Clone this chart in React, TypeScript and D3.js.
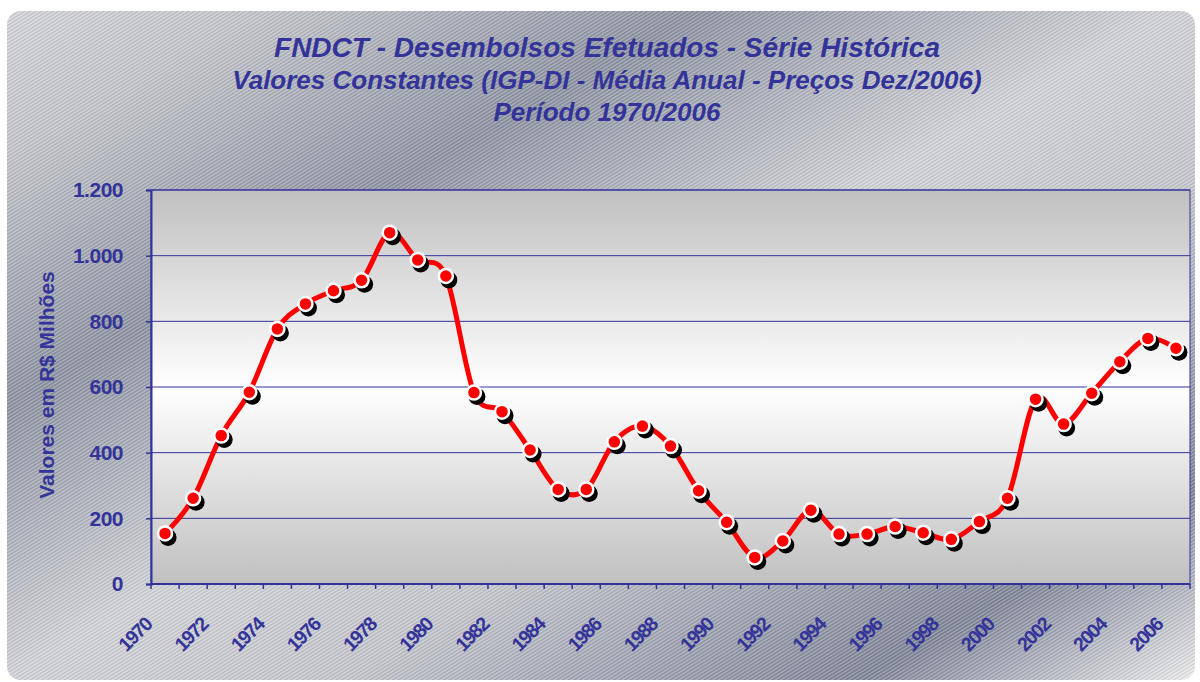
import React, { useRef, useEffect } from 'react';
import * as d3 from 'd3';

const years = d3.range(1970, 2007).map(String);
const values = [
  154, 261, 452, 584, 777, 853, 893, 925, 1070, 987,
  938, 583, 525, 408, 288, 288, 433, 481, 420, 284,
  188, 81, 131, 225, 152, 152, 175, 156, 136, 190,
  261, 563, 487, 581, 677, 748, 718,
];
const yTicks = [0, 200, 400, 600, 800, 1000, 1200];
const titleLines = [
  'FNDCT - Desembolsos Efetuados - Série Histórica',
  'Valores Constantes (IGP-DI - Média Anual - Preços Dez/2006)',
  'Período 1970/2006',
];
const yTitle = 'Valores em R$ Milhões';

const NAVY = '#333399';

export default function App() {
  const svgRef = useRef<SVGSVGElement | null>(null);

  useEffect(() => {
    if (!svgRef.current) return;
    const svg = d3.select(svgRef.current);
    svg.selectAll('*').remove();

    const width = 1200;
    const height = 682;
    const plot = { left: 151, top: 190, right: 1190, bottom: 584 };

    const defs = svg.append('defs');

    // metallic backdrop, bands running at ~30 degrees
    const bg = defs.append('linearGradient').attr('id', 'bgGrad')
      .attr('gradientUnits', 'userSpaceOnUse')
      .attr('x1', 0).attr('y1', 0).attr('x2', 587).attr('y2', 1027);
    [
      [0, '#d8d9dd'], [0.12, '#c4c6cc'], [0.3, '#8e94a4'], [0.5, '#d4d5da'],
      [0.64, '#c6c8cf'], [0.86, '#80869a'], [1, '#eeeeef'],
    ].forEach(([o, c]) => bg.append('stop').attr('offset', o as number).attr('stop-color', c as string));

    const hatch = defs.append('pattern').attr('id', 'hatch')
      .attr('patternUnits', 'userSpaceOnUse').attr('width', 3).attr('height', 3)
      .attr('patternTransform', 'rotate(-32)');
    hatch.append('line').attr('x1', 0).attr('y1', 0.5).attr('x2', 3).attr('y2', 0.5)
      .attr('stroke', '#ffffff').attr('stroke-width', 1).attr('opacity', 0.3);
    hatch.append('line').attr('x1', 0).attr('y1', 1.5).attr('x2', 3).attr('y2', 1.5)
      .attr('stroke', '#000000').attr('stroke-width', 1).attr('opacity', 0.12);

    const plotGrad = defs.append('linearGradient').attr('id', 'plotGrad')
      .attr('x1', 0).attr('y1', 0).attr('x2', 0).attr('y2', 1);
    [[0, '#c0c0c0'], [0.5, '#ffffff'], [1, '#c0c0c0']]
      .forEach(([o, c]) => plotGrad.append('stop').attr('offset', o as number).attr('stop-color', c as string));

    svg.append('rect').attr('width', width).attr('height', height).attr('fill', '#ffffff');
    svg.append('rect').attr('x', 7).attr('y', 11).attr('width', 1188).attr('height', 669)
      .attr('rx', 14).attr('fill', 'url(#bgGrad)');
    svg.append('rect').attr('x', 7).attr('y', 11).attr('width', 1188).attr('height', 669)
      .attr('rx', 14).attr('fill', 'url(#hatch)');

    // titles
    const fontFam = 'Liberation Sans, Arial, sans-serif';
    const titleSizes = [28, 26, 26];
    const titleYs = [57, 89, 121];
    titleLines.forEach((t, i) => {
      svg.append('text').attr('x', 607).attr('y', titleYs[i])
        .attr('text-anchor', 'middle').attr('font-family', fontFam)
        .attr('font-size', titleSizes[i]).attr('font-weight', 'bold').attr('font-style', 'italic')
        .attr('fill', NAVY).text(t);
    });

    const x = d3.scaleBand<string>().domain(years).range([plot.left, plot.right]);
    const y = d3.scaleLinear().domain([0, 1200]).range([plot.bottom, plot.top]);

    svg.append('rect').attr('x', plot.left).attr('y', plot.top)
      .attr('width', plot.right - plot.left).attr('height', plot.bottom - plot.top)
      .attr('fill', 'url(#plotGrad)').attr('stroke', NAVY).attr('stroke-width', 1);

    svg.append('g').selectAll('line').data(yTicks.slice(1)).enter().append('line')
      .attr('x1', plot.left).attr('x2', plot.right)
      .attr('y1', d => y(d)).attr('y2', d => y(d))
      .attr('stroke', NAVY).attr('stroke-width', 1);

    // y axis
    const yAxis = d3.axisLeft(y).tickValues(yTicks).tickSize(5).tickPadding(23)
      .tickFormat(d => d3.format(',')(d as number).replace(/,/g, '.'));
    svg.append('g').attr('transform', `translate(${plot.left},0)`).call(yAxis)
      .call(g => g.select('.domain').attr('stroke', NAVY).attr('stroke-width', 2))
      .call(g => g.selectAll('.tick line').attr('stroke', NAVY).attr('stroke-width', 1.5))
      .selectAll('text')
      .attr('font-family', fontFam).attr('font-size', 21).attr('font-weight', 'bold')
      .attr('fill', NAVY).attr('letter-spacing', -0.5);

    svg.append('text')
      .attr('transform', `translate(54,${(plot.top + plot.bottom) / 2 - 2}) rotate(-90)`)
      .attr('text-anchor', 'middle').attr('font-family', fontFam).attr('font-size', 21)
      .attr('font-weight', 'bold').attr('fill', NAVY).text(yTitle);

    // x axis: ticks between categories
    const xAxisG = svg.append('g');
    xAxisG.append('line').attr('x1', plot.left).attr('x2', plot.right)
      .attr('y1', plot.bottom).attr('y2', plot.bottom).attr('stroke', NAVY).attr('stroke-width', 2);
    xAxisG.selectAll('.xt').data(years.concat(['end'])).enter().append('line')
      .attr('x1', (d, i) => plot.left + i * x.step()).attr('x2', (d, i) => plot.left + i * x.step())
      .attr('y1', plot.bottom).attr('y2', plot.bottom + 5)
      .attr('stroke', NAVY).attr('stroke-width', 1.5);
    xAxisG.selectAll('.xl').data(years.filter((d, i) => i % 2 === 0)).enter().append('text')
      .attr('transform', d => `translate(${(x(d) as number) + x.bandwidth() / 2 - 12},${plot.bottom + 42}) rotate(-45)`)
      .attr('text-anchor', 'end')
      .attr('font-family', fontFam).attr('font-size', 19.5).attr('font-weight', 'bold')
      .attr('fill', NAVY).attr('letter-spacing', -1.5).text(d => d);

    const cx = (i: number) => (x(years[i]) as number) + x.bandwidth() / 2;
    const line = d3.line<number>().x((d, i) => cx(i)).y(d => y(d)).curve(d3.curveCatmullRom.alpha(0));

    svg.append('path').datum(values).attr('d', line)
      .attr('fill', 'none').attr('stroke', '#ff0000').attr('stroke-width', 5)
      .attr('stroke-linejoin', 'round');

    // marker shadows then markers
    svg.append('g').selectAll('circle').data(values).enter().append('circle')
      .attr('cx', (d, i) => cx(i) + 3).attr('cy', d => y(d) + 4).attr('r', 8.5)
      .attr('fill', '#000000');
    svg.append('g').selectAll('circle').data(values).enter().append('circle')
      .attr('cx', (d, i) => cx(i)).attr('cy', d => y(d)).attr('r', 7)
      .attr('fill', '#ff0000').attr('stroke', '#ffffff').attr('stroke-width', 2.5);
  }, []);

  return (
    <svg ref={svgRef} width={1200} height={682}
      style={{ position: 'absolute', left: 0, top: 0, display: 'block' }} />
  );
}
